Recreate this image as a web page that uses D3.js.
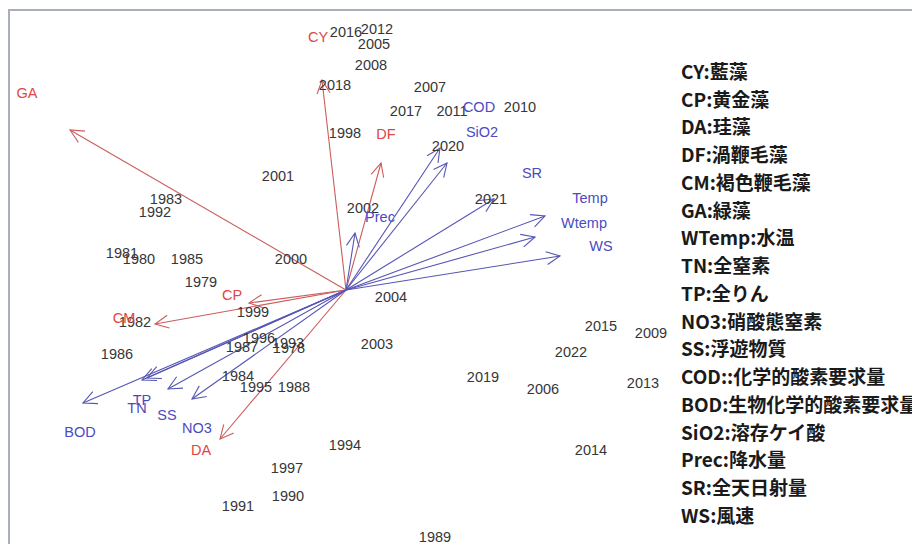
<!DOCTYPE html>
<html>
<head>
<meta charset="utf-8">
<script src="https://cdn.jsdelivr.net/npm/d3@7"></script>
<style>
  html, body { margin: 0; padding: 0; background: #fff; }
  svg { display: block; }
</style>
</head>
<body>
<svg id="chart" width="912" height="544"></svg>
<script>
// Site scores (years), RDA axis 1 / axis 2
const years = [1978,1979,1980,1981,1982,1983,1984,1985,1986,1987,1988,1989,1990,1991,1992,1993,1994,1995,1996,1997,1998,1999,2000,2001,2002,2003,2004,2005,2006,2007,2008,2009,2010,2011,2012,2013,2014,2015,2016,2017,2018,2019,2020,2021,2022];
const yearX = [-0.57,-1.45,-2.07,-2.24,-2.11,-1.80,-1.08,-1.59,-2.29,-1.04,-0.52,0.89,-0.58,-1.08,-1.91,-0.58,-0.01,-0.90,-0.87,-0.59,-0.01,-0.93,-0.55,-0.68,0.17,0.31,0.45,0.28,1.97,0.84,0.25,3.05,1.74,1.06,0.31,2.97,2.45,2.55,0.00,0.60,-0.11,1.37,1.02,1.45,2.25];
const yearY = [-0.58,0.08,0.31,0.37,-0.32,0.91,-0.86,0.31,-0.64,-0.57,-0.97,-2.47,-2.06,-2.16,0.78,-0.53,-1.55,-0.97,-0.48,-1.78,1.57,-0.22,0.31,1.14,0.82,-0.54,-0.07,2.46,-0.99,2.03,2.25,-0.43,1.83,1.79,2.61,-0.93,-1.60,-0.36,2.58,1.79,2.05,-0.87,1.44,0.91,-0.62];

// Species (algal groups) arrows and their label positions
const species = ["CY","GA","DF","CP","CM","DA"];
const speciesX = [-0.24,-2.76,0.35,-0.97,-1.91,-1.26];
const speciesY = [2.10,1.60,1.27,-0.13,-0.34,-1.49];
const speciesLabelX = [-0.28,-3.19,0.40,-1.14,-2.22,-1.45];
const speciesLabelY = [2.53,1.97,1.56,-0.05,-0.28,-1.60];

// Environmental variable arrows and their label positions
const envVars = ["BOD","TN","TP","SS","NO3","COD","SiO2","SR","Temp","Wtemp","WS","Prec"];
const envX = [-2.63,-2.04,-1.99,-1.78,-1.54,0.94,1.01,1.48,1.99,1.89,2.14,0.09];
const envY = [-1.13,-0.90,-0.88,-0.99,-1.09,1.42,1.27,0.91,0.74,0.53,0.34,0.57];
const envLabelX = [-2.66,-2.09,-2.04,-1.79,-1.49,1.33,1.36,1.86,2.44,2.38,2.55,0.34];
const envLabelY = [-1.42,-1.18,-1.10,-1.25,-1.38,1.83,1.58,1.17,0.92,0.67,0.44,0.73];

// Abbreviation key
const legendItems = [
  "CY:藍藻","CP:黄金藻","DA:珪藻","DF:渦鞭毛藻","CM:褐色鞭毛藻","GA:緑藻",
  "WTemp:水温","TN:全窒素","TP:全りん","NO3:硝酸態窒素","SS:浮遊物質",
  "COD::化学的酸素要求量","BOD:生物化学的酸素要求量","SiO2:溶存ケイ酸",
  "Prec:降水量","SR:全天日射量","WS:風速"
];

const svg = d3.select("#chart");
const W = 912, H = 544;

const x = d3.scaleLinear().domain([-3.37, 5.66]).range([9, 912]);
const y = d3.scaleLinear().domain([2.80, -2.54]).range([10, 544]);

// plot frame (extends past the window on the right and bottom)
svg.append("rect")
  .attr("x", x(-3.37)).attr("y", y(2.80))
  .attr("width", 1000).attr("height", 1000)
  .attr("fill", "none").attr("stroke", "#a8afbb").attr("stroke-width", 2);

const gArrows = svg.append("g");
const headLen = 15, headAng = Math.PI / 7;

function drawArrows(xs, ys, color, width) {
  const data = xs.map((v, i) => ({ x: v, y: ys[i] }));
  const g = gArrows.append("g").attr("stroke", color).attr("stroke-width", width).attr("fill", "none");
  g.selectAll("line.shaft").data(data).join("line")
    .attr("class", "shaft")
    .attr("x1", x(0)).attr("y1", y(0))
    .attr("x2", d => x(d.x)).attr("y2", d => y(d.y));
  g.selectAll("path.head").data(data).join("path")
    .attr("class", "head")
    .attr("d", d => {
      const tx = x(d.x), ty = y(d.y);
      const a = Math.atan2(ty - y(0), tx - x(0));
      const p1 = [tx - headLen * Math.cos(a - headAng), ty - headLen * Math.sin(a - headAng)];
      const p2 = [tx - headLen * Math.cos(a + headAng), ty - headLen * Math.sin(a + headAng)];
      return `M${p1[0]},${p1[1]}L${tx},${ty}L${p2[0]},${p2[1]}`;
    });
}

drawArrows(speciesX, speciesY, "#cc5c5c", 1.1);
drawArrows(envX, envY, "#5656b4", 1.1);

// year labels
svg.append("g")
  .attr("font-family", "Liberation Sans, Arial, sans-serif")
  .attr("font-size", 14.5)
  .attr("fill", "#363636")
  .attr("text-anchor", "middle")
  .selectAll("text").data(years).join("text")
  .attr("x", (d, i) => x(yearX[i]))
  .attr("y", (d, i) => y(yearY[i]))
  .attr("dy", "0.36em")
  .text(d => d);

// species labels
svg.append("g")
  .attr("font-family", "Liberation Sans, Arial, sans-serif")
  .attr("font-size", 14.5)
  .attr("fill", "#e04646")
  .attr("text-anchor", "middle")
  .selectAll("text").data(species).join("text")
  .attr("x", (d, i) => x(speciesLabelX[i]))
  .attr("y", (d, i) => y(speciesLabelY[i]))
  .attr("dy", "0.36em")
  .text(d => d);

// environmental variable labels
svg.append("g")
  .attr("font-family", "Liberation Sans, Arial, sans-serif")
  .attr("font-size", 14.5)
  .attr("fill", "#4b4bbf")
  .attr("text-anchor", "middle")
  .selectAll("text").data(envVars).join("text")
  .attr("x", (d, i) => x(envLabelX[i]))
  .attr("y", (d, i) => y(envLabelY[i]))
  .attr("dy", "0.36em")
  .text(d => d);

// abbreviation key
const ky = d3.scalePoint().domain(d3.range(legendItems.length)).range([72, 516]);
svg.append("g")
  .attr("font-family", "Noto Sans CJK JP, sans-serif")
  .attr("font-size", 19)
  .attr("font-weight", 700)
  .attr("fill", "#1a1a1a")
  .selectAll("text").data(legendItems).join("text")
  .attr("x", 681)
  .attr("y", (d, i) => ky(i))
  .attr("dy", "0.36em")
  .text(d => d);
</script>
</body>
</html>
